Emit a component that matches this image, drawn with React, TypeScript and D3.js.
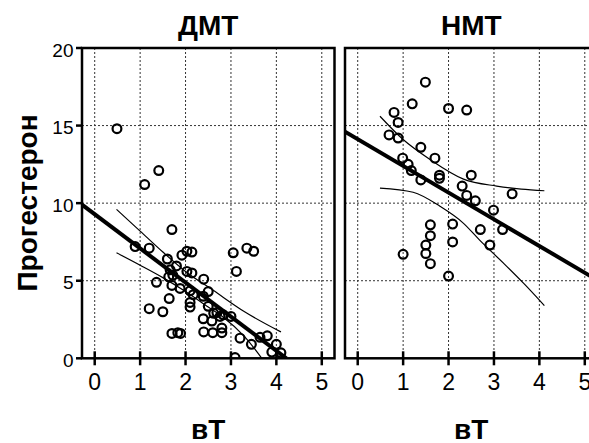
import React from 'react';
import { scaleLinear, line, curveMonotoneX } from 'd3';

// ДМТ panel
const dmtX = [0.49, 1.1, 1.41, 1.7, 0.89, 1.2, 1.6, 1.92, 2.03, 2.14, 1.8, 1.66, 2.03, 2.14, 1.63, 2.4, 1.36, 1.7, 1.88, 2.1, 2.5, 2.17, 1.64, 2.39, 2.1, 2.1, 2.5, 1.2, 1.5, 2.69, 2.76, 2.83, 3.0, 2.39, 2.58, 2.8, 2.8, 1.7, 1.83, 1.89, 2.4, 2.6, 3.05, 3.35, 3.5, 3.12, 3.2, 3.45, 3.64, 3.8, 4.0, 3.9, 4.1, 3.09, 1.72, 2.62];
const dmtY = [14.8, 11.2, 12.1, 8.3, 7.2, 7.1, 6.4, 6.65, 6.9, 6.85, 5.95, 5.7, 5.6, 5.5, 5.25, 5.1, 4.9, 4.7, 4.5, 4.35, 4.3, 4.1, 3.85, 4.0, 3.6, 3.3, 3.35, 3.2, 3.0, 2.95, 2.7, 2.8, 2.7, 2.55, 2.4, 1.95, 1.65, 1.6, 1.65, 1.6, 1.7, 1.65, 6.8, 7.1, 6.9, 5.6, 1.3, 0.9, 1.35, 1.45, 0.9, 0.4, 0.35, 0.05, 5.35, 2.9];
const dmtFitX = [-0.28, 4.22];
const dmtFitY = [9.9, 0];
const dmtUpperX = [0.48, 1.0, 1.5, 2.0, 2.6, 3.3, 4.1];
const dmtUpperY = [9.6, 8.2, 6.85, 5.6, 4.4, 3.0, 1.7];
const dmtLowerX = [0.48, 1.0, 1.5, 2.0, 2.5, 2.83, 3.3, 3.68];
const dmtLowerY = [6.8, 6.0, 5.2, 4.3, 3.3, 2.65, 1.4, 0];

// НМТ panel
const nmtX = [1.49, 1.2, 0.8, 2.0, 2.4, 0.89, 0.69, 0.89, 1.39, 1.7, 0.99, 1.11, 1.18, 1.39, 1.8, 1.8, 2.5, 2.3, 2.4, 2.59, 3.4, 2.99, 1.6, 2.09, 2.7, 3.19, 1.6, 1.5, 2.09, 2.91, 1.0, 1.5, 1.6, 2.0];
const nmtY = [17.8, 16.4, 15.85, 16.1, 16.0, 15.2, 14.4, 14.2, 13.6, 12.9, 12.9, 12.5, 12.1, 11.5, 11.8, 11.6, 11.8, 11.1, 10.5, 10.15, 10.6, 9.55, 8.6, 8.65, 8.3, 8.3, 7.9, 7.3, 7.5, 7.3, 6.7, 6.75, 6.1, 5.3];
const nmtFitX = [-0.28, 5.3];
const nmtFitY = [14.6, 5.0];
const nmtUpperX = [0.49, 1.0, 1.6, 2.33, 3.06, 3.6, 4.11];
const nmtUpperY = [15.6, 14.1, 12.8, 11.55, 11.1, 10.9, 10.8];
const nmtLowerX = [0.49, 1.22, 1.81, 2.33, 2.69, 3.21, 3.65, 4.11];
const nmtLowerY = [10.97, 10.7, 9.8, 8.7, 7.6, 6.13, 4.84, 3.4];

const xTicks = [0, 1, 2, 3, 4, 5];
const yTicks = [0, 5, 10, 15, 20];
const titles = ['ДМТ', 'НМТ'];

const font = "Arial, 'Liberation Sans', sans-serif";
const top = 48;
const bottom = 358.3;
const y = scaleLinear().domain([0, 20]).range([bottom, top]);

type PanelProps = {
  id: string;
  left: number;
  title: string;
  xs: number[];
  ys: number[];
  fitX: number[];
  fitY: number[];
  upX: number[];
  upY: number[];
  loX: number[];
  loY: number[];
  showY: boolean;
};

function Panel({ id, left, title, xs, ys, fitX, fitY, upX, upY, loX, loY, showY }: PanelProps) {
  const x = scaleLinear().domain([-0.28, 5.28]).range([left, left + 252.5]);
  const [x0, x1] = x.range();
  const path = (px: number[], py: number[]) =>
    line<number>()
      .x((d) => x(d))
      .y((_, i) => y(py[i]))
      .curve(curveMonotoneX)(px) || '';
  return (
    <g>
      <defs>
        <clipPath id={id}>
          <rect x={x0} y={top} width={x1 - x0} height={bottom - top} />
        </clipPath>
      </defs>
      <g stroke="#333" strokeWidth={1} strokeDasharray="2,2">
        {xTicks.map((t) => (
          <line key={t} x1={x(t)} x2={x(t)} y1={top} y2={bottom} />
        ))}
        {yTicks.slice(1, 4).map((t) => (
          <line key={t} x1={x0} x2={x1} y1={y(t)} y2={y(t)} />
        ))}
      </g>
      <g clipPath={`url(#${id})`}>
        {xs.map((d, i) => (
          <circle key={i} cx={x(d)} cy={y(ys[i])} r={4.4} fill="none" stroke="#000" strokeWidth={2.2} />
        ))}
        <path d={path(upX, upY)} fill="none" stroke="#000" strokeWidth={1.2} />
        <path d={path(loX, loY)} fill="none" stroke="#000" strokeWidth={1.2} />
        <line x1={x(fitX[0])} y1={y(fitY[0])} x2={x(fitX[1])} y2={y(fitY[1])} stroke="#000" strokeWidth={4} />
      </g>
      <rect x={x0} y={top} width={x1 - x0} height={bottom - top} fill="none" stroke="#000" strokeWidth={2.5} />
      {xTicks.map((t) => (
        <g key={t}>
          <line x1={x(t)} x2={x(t)} y1={bottom - 7} y2={bottom + 7} stroke="#000" strokeWidth={2.5} />
          <text x={x(t)} y={bottom + 31.5} textAnchor="middle" fontSize={23} fontFamily={font}>{t}</text>
        </g>
      ))}
      {showY &&
        yTicks.map((t) => (
          <g key={t}>
            <line x1={x0 - 6} x2={x0} y1={y(t)} y2={y(t)} stroke="#000" strokeWidth={2.5} />
            <text x={x0 - 8.5} y={y(t) + 8.5} textAnchor="end" fontSize={19} fontFamily={font}>{t}</text>
          </g>
        ))}
      <text x={(x0 + x1) / 2} y={35} textAnchor="middle" fontSize={28} fontWeight="bold" fontFamily={font}>{title}</text>
      <text x={(x0 + x1) / 2} y={439} textAnchor="middle" fontSize={28} fontWeight="bold" fontFamily={font}>вТ</text>
    </g>
  );
}

export default function App() {
  return (
    <svg width={589} height={443} style={{ position: 'absolute', left: 0, top: 0, background: '#fff' }}>
      <Panel id="c1" left={82} title={titles[0]} xs={dmtX} ys={dmtY} fitX={dmtFitX} fitY={dmtFitY}
        upX={dmtUpperX} upY={dmtUpperY} loX={dmtLowerX} loY={dmtLowerY} showY={true} />
      <Panel id="c2" left={345} title={titles[1]} xs={nmtX} ys={nmtY} fitX={nmtFitX} fitY={nmtFitY}
        upX={nmtUpperX} upY={nmtUpperY} loX={nmtLowerX} loY={nmtLowerY} showY={false} />
      <text transform="translate(36.7,203) rotate(-90)" textAnchor="middle" fontSize={28} fontWeight="bold" fontFamily={font}>
        Прогестерон
      </text>
    </svg>
  );
}
